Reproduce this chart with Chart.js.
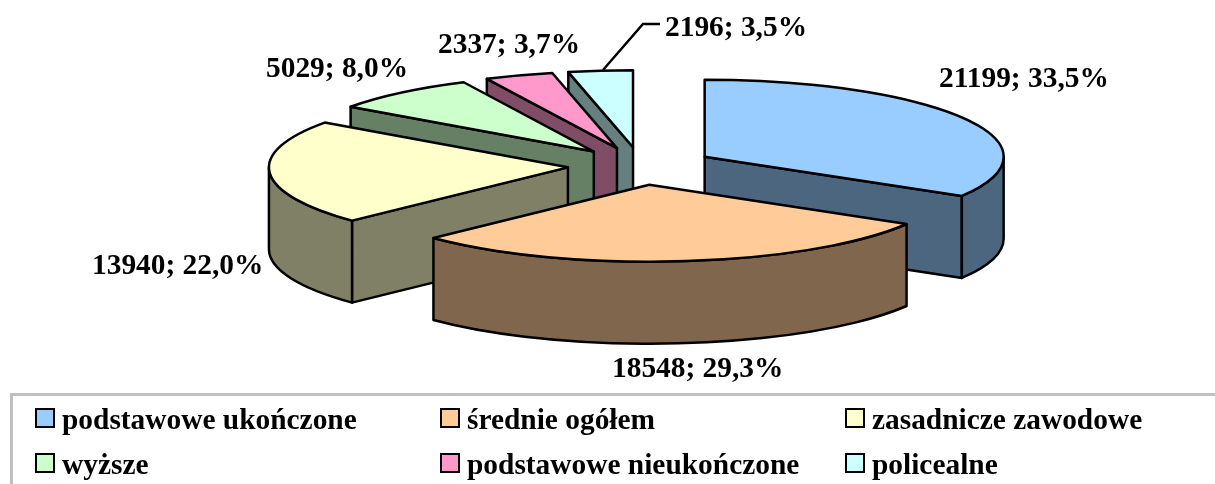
<!DOCTYPE html>
<html lang="pl">
<head>
<meta charset="utf-8">
<title>Wykres</title>
<style>
html,body{margin:0;padding:0;background:#fff;overflow:hidden}
canvas{display:block}
</style>
<script src="https://cdn.jsdelivr.net/npm/chart.js@4/dist/chart.umd.min.js"></script>
</head>
<body>
<canvas id="c" width="1215" height="484"></canvas>
<script>
const categories = ['podstawowe ukończone','średnie ogółem','zasadnicze zawodowe','wyższe','podstawowe nieukończone','policealne'];
const values = [21199,18548,13940,5029,2337,2196];
const topColors = ['#99CCFF','#FFCC99','#FFFFCC','#CCFFCC','#FF99CC','#CCFFFF'];
const wallColors = ['#4D6680','#80664D','#808066','#668066','#804D66','#668080'];

// Pseudo-3D view applied to the library's arc elements
const tilt = 77 / 299;
const depth = 82;
const explode = 0.245;
const paintOrder = [5,4,3,2,0,1];
const labelBoxes = [[939,87],[612,377],[92,274],[266,77],[438,53],[665,36]];
const leader = [[603,70],[643,24],[660,24]];
const legendCols = [35,440,845];
const legendRows = [408,453];
const serif = '"Liberation Serif","Times New Roman",serif';

function pct(v){
  const total = values.reduce((a,b)=>a+b,0);
  return (v/total*100).toFixed(1).replace('.',',');
}

const pie3d = {
  id:'pie3d',
  beforeDatasetsDraw(chart){
    const ctx = chart.ctx;
    const arcs = chart.getDatasetMeta(0).data;
    ctx.save();
    ctx.lineWidth = 2.5;
    ctx.lineJoin = 'round';
    ctx.strokeStyle = '#000';
    for (const i of paintOrder){
      const el = arcs[i];
      const R = el.outerRadius, Ry = R*tilt;
      const a = el.startAngle, b = el.endAngle, mid = (a+b)/2;
      const ox = el.x + Math.cos(mid)*R*explode;
      const oy = el.y + Math.sin(mid)*Ry*explode;
      const px = t => ox + Math.cos(t)*R;
      const py = t => oy + Math.sin(t)*Ry;
      ctx.fillStyle = wallColors[i];
      // radial cut faces that look toward the viewer
      const faces = [];
      if (Math.cos(a) < -1e-6) faces.push(a);
      if (Math.cos(b) > 1e-6) faces.push(b);
      for (const t of faces){
        ctx.beginPath();
        ctx.moveTo(ox,oy);
        ctx.lineTo(px(t),py(t));
        ctx.lineTo(px(t),py(t)+depth);
        ctx.lineTo(ox,oy+depth);
        ctx.closePath();
        ctx.fill();
        ctx.stroke();
      }
      // outer rim, front half only
      const f0 = Math.max(a,0), f1 = Math.min(b,Math.PI);
      if (f1 > f0){
        ctx.beginPath();
        ctx.ellipse(ox,oy,R,Ry,0,f0,f1);
        ctx.lineTo(px(f1),py(f1)+depth);
        ctx.ellipse(ox,oy+depth,R,Ry,0,f1,f0,true);
        ctx.closePath();
        ctx.fill();
        ctx.stroke();
      }
      // top face drawn by the library's arc element
      ctx.save();
      ctx.translate(ox,oy);
      ctx.scale(1,tilt);
      ctx.translate(-el.x,-el.y);
      el.draw(ctx);
      ctx.restore();
      ctx.beginPath();
      ctx.moveTo(ox,oy);
      ctx.ellipse(ox,oy,R,Ry,0,a,b);
      ctx.closePath();
      ctx.stroke();
    }
    ctx.restore();
    return false;
  },
  afterDraw(chart){
    const ctx = chart.ctx;
    ctx.save();
    // leader line
    ctx.strokeStyle = '#000';
    ctx.lineWidth = 2.5;
    ctx.beginPath();
    leader.forEach((p,i)=> i ? ctx.lineTo(p[0],p[1]) : ctx.moveTo(p[0],p[1]));
    ctx.stroke();
    // data labels
    ctx.fillStyle = '#000';
    ctx.textBaseline = 'alphabetic';
    ctx.textAlign = 'left';
    ctx.font = 'bold 29.4px '+serif;
    values.forEach((v,i)=>{
      ctx.fillText(v+'; '+pct(v)+'%', labelBoxes[i][0], labelBoxes[i][1]);
    });
    // legend frame
    ctx.strokeStyle = '#C0C0C0';
    ctx.lineWidth = 3;
    ctx.strokeRect(11.5,394.5,1220,110);
    // legend entries
    ctx.font = 'bold 29.4px '+serif;
    categories.forEach((c,i)=>{
      const x = legendCols[i%3], y = legendRows[Math.floor(i/3)];
      ctx.fillStyle = topColors[i];
      ctx.fillRect(x+1,y+1,18,18);
      ctx.strokeStyle = '#000';
      ctx.lineWidth = 2;
      ctx.strokeRect(x+1,y+1,18,18);
      ctx.fillStyle = '#000';
      ctx.fillText(c, x+27, y+21);
    });
    ctx.restore();
  }
};

new Chart(document.getElementById('c'),{
  type:'pie',
  data:{
    labels:categories,
    datasets:[{data:values,backgroundColor:topColors,borderWidth:0,hoverOffset:0}]
  },
  options:{
    responsive:false,
    animation:false,
    events:[],
    radius:299,
    layout:{padding:{left:67,top:0,right:0,bottom:152}},
    plugins:{legend:{display:false},tooltip:{enabled:false},title:{display:false}}
  },
  plugins:[pie3d]
});
</script>
</body>
</html>
